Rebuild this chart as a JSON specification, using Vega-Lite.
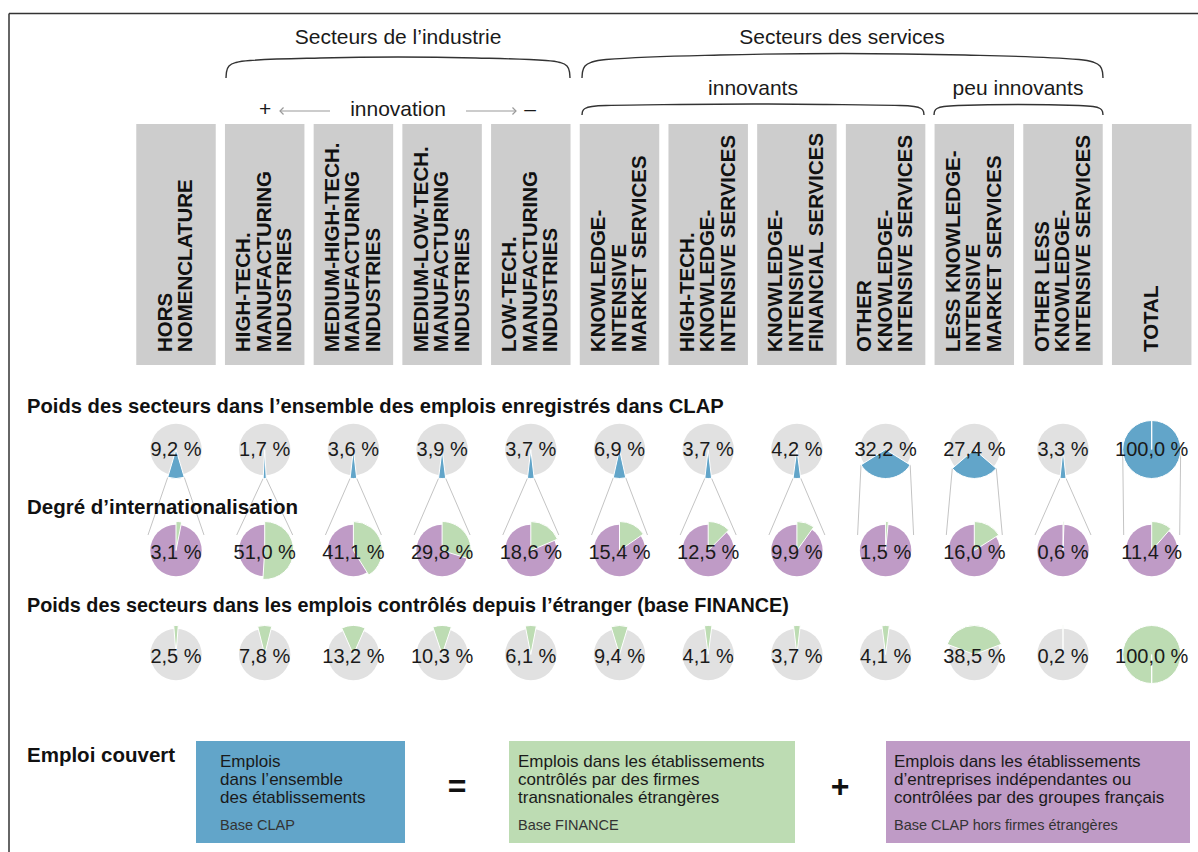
{
  "$schema": "https://vega.github.io/schema/vega-lite/v6.json",
  "width": 1198,
  "height": 852,
  "padding": 0,
  "autosize": {"type": "none"},
  "background": "white",
  "config": {"view": {"stroke": null}, "font": "Liberation Sans", "axis": {"disable": true}},
  "datasets": {
    "secteurs": [
      {"rang": 0, "secteur": "HORS\nNOMENCLATURE", "clap": 9.2, "inter": 3.1, "finance": 2.5},
      {"rang": 1, "secteur": "HIGH-TECH.\nMANUFACTURING\nINDUSTRIES", "clap": 1.7, "inter": 51.0, "finance": 7.8},
      {"rang": 2, "secteur": "MEDIUM-HIGH-TECH.\nMANUFACTURING\nINDUSTRIES", "clap": 3.6, "inter": 41.1, "finance": 13.2},
      {"rang": 3, "secteur": "MEDIUM-LOW-TECH.\nMANUFACTURING\nINDUSTRIES", "clap": 3.9, "inter": 29.8, "finance": 10.3},
      {"rang": 4, "secteur": "LOW-TECH.\nMANUFACTURING\nINDUSTRIES", "clap": 3.7, "inter": 18.6, "finance": 6.1},
      {"rang": 5, "secteur": "KNOWLEDGE-\nINTENSIVE\nMARKET SERVICES", "clap": 6.9, "inter": 15.4, "finance": 9.4},
      {"rang": 6, "secteur": "HIGH-TECH.\nKNOWLEDGE-\nINTENSIVE SERVICES", "clap": 3.7, "inter": 12.5, "finance": 4.1},
      {"rang": 7, "secteur": "KNOWLEDGE-\nINTENSIVE\nFINANCIAL SERVICES", "clap": 4.2, "inter": 9.9, "finance": 3.7},
      {"rang": 8, "secteur": "OTHER\nKNOWLEDGE-\nINTENSIVE SERVICES", "clap": 32.2, "inter": 1.5, "finance": 4.1},
      {"rang": 9, "secteur": "LESS KNOWLEDGE-\nINTENSIVE\nMARKET SERVICES", "clap": 27.4, "inter": 16.0, "finance": 38.5},
      {"rang": 10, "secteur": "OTHER LESS\nKNOWLEDGE-\nINTENSIVE SERVICES", "clap": 3.3, "inter": 0.6, "finance": 0.2},
      {"rang": 11, "secteur": "TOTAL", "clap": 100.0, "inter": 11.4, "finance": 100.0}
    ],
    "accolades": [
      {"accolade": "industrie", "u": 226, "v": 78},
      {"accolade": "industrie", "u": 226.5, "v": 72},
      {"accolade": "industrie", "u": 229, "v": 66},
      {"accolade": "industrie", "u": 236, "v": 62.5},
      {"accolade": "industrie", "u": 250, "v": 60.5},
      {"accolade": "industrie", "u": 320, "v": 58},
      {"accolade": "industrie", "u": 398, "v": 57},
      {"accolade": "industrie", "u": 476, "v": 58},
      {"accolade": "industrie", "u": 546, "v": 60.5},
      {"accolade": "industrie", "u": 560, "v": 62.5},
      {"accolade": "industrie", "u": 567, "v": 66},
      {"accolade": "industrie", "u": 569.5, "v": 72},
      {"accolade": "industrie", "u": 570, "v": 78},
      {"accolade": "services", "u": 582, "v": 78},
      {"accolade": "services", "u": 582.5, "v": 72},
      {"accolade": "services", "u": 585, "v": 66},
      {"accolade": "services", "u": 592, "v": 62},
      {"accolade": "services", "u": 606, "v": 59.5},
      {"accolade": "services", "u": 720, "v": 55},
      {"accolade": "services", "u": 842.5, "v": 53.5},
      {"accolade": "services", "u": 965, "v": 55},
      {"accolade": "services", "u": 1079, "v": 59.5},
      {"accolade": "services", "u": 1093, "v": 62},
      {"accolade": "services", "u": 1100, "v": 66},
      {"accolade": "services", "u": 1102.5, "v": 72},
      {"accolade": "services", "u": 1103, "v": 78},
      {"accolade": "innovants", "u": 582, "v": 115},
      {"accolade": "innovants", "u": 582.5, "v": 111.5},
      {"accolade": "innovants", "u": 585, "v": 108.5},
      {"accolade": "innovants", "u": 592, "v": 106.5},
      {"accolade": "innovants", "u": 606, "v": 105.5},
      {"accolade": "innovants", "u": 680, "v": 104.5},
      {"accolade": "innovants", "u": 753, "v": 104},
      {"accolade": "innovants", "u": 826, "v": 104.5},
      {"accolade": "innovants", "u": 900, "v": 105.5},
      {"accolade": "innovants", "u": 914, "v": 106.5},
      {"accolade": "innovants", "u": 921, "v": 108.5},
      {"accolade": "innovants", "u": 923.5, "v": 111.5},
      {"accolade": "innovants", "u": 924, "v": 115},
      {"accolade": "peu", "u": 934, "v": 115},
      {"accolade": "peu", "u": 934.5, "v": 111.5},
      {"accolade": "peu", "u": 937, "v": 108.5},
      {"accolade": "peu", "u": 944, "v": 106.5},
      {"accolade": "peu", "u": 958, "v": 105.5},
      {"accolade": "peu", "u": 1018.5, "v": 104.5},
      {"accolade": "peu", "u": 1079, "v": 105.5},
      {"accolade": "peu", "u": 1093, "v": 106.5},
      {"accolade": "peu", "u": 1100, "v": 108.5},
      {"accolade": "peu", "u": 1102.5, "v": 111.5},
      {"accolade": "peu", "u": 1103, "v": 115}
    ]
  },
  "data": {"name": "secteurs"},
  "layer": [
    {
      "data": {"values": [{"k": 1}]},
      "mark": {"type": "rule", "color": "#333333", "strokeWidth": 1.5},
      "encoding": {
        "x": {"datum": -1.88275, "type": "quantitative", "scale": {"type": "linear", "domain": [-1.98422, 11.52198], "nice": false, "zero": false}},
        "x2": {"datum": 11.52198},
        "y": {"datum": 13.5, "type": "quantitative", "scale": {"type": "linear", "domain": [0, 852], "reverse": true, "nice": false, "zero": false}}
      }
    },
    {
      "data": {"values": [{"k": 1}]},
      "mark": {"type": "rule", "color": "#333333", "strokeWidth": 1.5},
      "encoding": {
        "x": {"datum": -1.88275, "type": "quantitative", "scale": {"type": "linear", "domain": [-1.98422, 11.52198], "nice": false, "zero": false}},
        "y": {"datum": 13.5, "type": "quantitative", "scale": {"type": "linear", "domain": [0, 852], "reverse": true, "nice": false, "zero": false}},
        "y2": {"datum": 852}
      }
    },
    {
      "data": {"name": "accolades"},
      "transform": [{"calculate": "(datum.u - 176) / 88.7", "as": "uc"}],
      "mark": {"type": "line", "interpolate": "monotone", "color": "#333333", "strokeWidth": 1.4},
      "encoding": {
        "x": {"field": "uc", "type": "quantitative", "scale": {"type": "linear", "domain": [-1.98422, 11.52198], "nice": false, "zero": false}},
        "y": {"field": "v", "type": "quantitative", "scale": {"type": "linear", "domain": [0, 852], "reverse": true, "nice": false, "zero": false}},
        "detail": {"field": "accolade"}
      }
    },
    {
      "transform": [{"calculate": "datum.rang - 0.448", "as": "g"}, {"calculate": "datum.rang + 0.448", "as": "d"}],
      "mark": {"type": "rect", "color": "#cdcdcd"},
      "encoding": {
        "x": {"field": "g", "type": "quantitative", "scale": {"type": "linear", "domain": [-1.98422, 11.52198], "nice": false, "zero": false}},
        "x2": {"field": "d"},
        "y": {"datum": 124, "type": "quantitative", "scale": {"type": "linear", "domain": [0, 852], "reverse": true, "nice": false, "zero": false}},
        "y2": {"datum": 365}
      }
    },
    {
      "transform": [{"calculate": "datum.rang - (length(split(datum.secteur, '\\n')) - 1) * 10.25 / 88.7", "as": "xs"}],
      "mark": {"type": "text", "angle": 270, "align": "left", "baseline": "middle", "fontSize": 20.5, "fontWeight": "bold", "lineHeight": 20.5, "lineBreak": "\n", "color": "#111111"},
      "encoding": {
        "x": {"field": "xs", "type": "quantitative", "scale": {"type": "linear", "domain": [-1.98422, 11.52198], "nice": false, "zero": false}},
        "y": {"datum": 352, "type": "quantitative", "scale": {"type": "linear", "domain": [0, 852], "reverse": true, "nice": false, "zero": false}},
        "text": {"field": "secteur"}
      }
    },
    {
      "transform": [
        {"calculate": "min(datum.clap * PI / 100, PI / 2)", "as": "h"},
        {"calculate": "datum.rang - 29 * sin(datum.h) / 88.7", "as": "xa"},
        {"calculate": "449.5 + 29 * cos(datum.h)", "as": "ya"},
        {"calculate": "datum.rang - 28 / 88.7", "as": "xb"}
      ],
      "mark": {"type": "rule", "color": "#c4c4c4", "strokeWidth": 1},
      "encoding": {
        "x": {"field": "xa", "type": "quantitative", "scale": {"type": "linear", "domain": [-1.98422, 11.52198], "nice": false, "zero": false}},
        "x2": {"field": "xb"},
        "y": {"field": "ya", "type": "quantitative", "scale": {"type": "linear", "domain": [0, 852], "reverse": true, "nice": false, "zero": false}},
        "y2": {"datum": 535}
      }
    },
    {
      "transform": [
        {"calculate": "min(datum.clap * PI / 100, PI / 2)", "as": "h"},
        {"calculate": "datum.rang + 29 * sin(datum.h) / 88.7", "as": "xa"},
        {"calculate": "449.5 + 29 * cos(datum.h)", "as": "ya"},
        {"calculate": "datum.rang + 28 / 88.7", "as": "xb"}
      ],
      "mark": {"type": "rule", "color": "#c4c4c4", "strokeWidth": 1},
      "encoding": {
        "x": {"field": "xa", "type": "quantitative", "scale": {"type": "linear", "domain": [-1.98422, 11.52198], "nice": false, "zero": false}},
        "x2": {"field": "xb"},
        "y": {"field": "ya", "type": "quantitative", "scale": {"type": "linear", "domain": [0, 852], "reverse": true, "nice": false, "zero": false}},
        "y2": {"datum": 535}
      }
    },
    {
      "mark": {"type": "circle", "size": 2642, "opacity": 1, "color": "#e1e1e1"},
      "encoding": {
        "x": {"field": "rang", "type": "quantitative", "scale": {"type": "linear", "domain": [-1.98422, 11.52198], "nice": false, "zero": false}},
        "y": {"datum": 449.5, "type": "quantitative", "scale": {"type": "linear", "domain": [0, 852], "reverse": true, "nice": false, "zero": false}}
      }
    },
    {
      "transform": [{"calculate": "50 - datum.clap / 2", "as": "t0"}, {"calculate": "50 + datum.clap / 2", "as": "t1"}],
      "mark": {"type": "arc", "radius": 29, "color": "#62a5c9", "stroke": "white", "strokeWidth": 1},
      "encoding": {
        "x": {"field": "rang", "type": "quantitative", "stack": null, "scale": {"type": "linear", "domain": [-1.98422, 11.52198], "nice": false, "zero": false}},
        "y": {"datum": 449.5, "type": "quantitative", "stack": null, "scale": {"type": "linear", "domain": [0, 852], "reverse": true, "nice": false, "zero": false}},
        "theta": {"field": "t0", "type": "quantitative", "stack": null, "scale": {"type": "linear", "domain": [0, 100], "range": [0, 6.2831853], "nice": false, "zero": false}},
        "theta2": {"field": "t1"}
      }
    },
    {
      "mark": {"type": "circle", "size": 2642, "opacity": 1, "color": "#bf9bc6"},
      "encoding": {
        "x": {"field": "rang", "type": "quantitative", "scale": {"type": "linear", "domain": [-1.98422, 11.52198], "nice": false, "zero": false}},
        "y": {"datum": 550.5, "type": "quantitative", "scale": {"type": "linear", "domain": [0, 852], "reverse": true, "nice": false, "zero": false}}
      }
    },
    {
      "transform": [{"calculate": "0", "as": "t0"}],
      "mark": {"type": "arc", "radius": 29, "color": "#bddcb3", "stroke": "white", "strokeWidth": 1},
      "encoding": {
        "x": {"field": "rang", "type": "quantitative", "stack": null, "scale": {"type": "linear", "domain": [-1.98422, 11.52198], "nice": false, "zero": false}},
        "y": {"datum": 550.5, "type": "quantitative", "stack": null, "scale": {"type": "linear", "domain": [0, 852], "reverse": true, "nice": false, "zero": false}},
        "theta": {"field": "t0", "type": "quantitative", "stack": null, "scale": {"type": "linear", "domain": [0, 100], "range": [0, 6.2831853], "nice": false, "zero": false}},
        "theta2": {"field": "inter"}
      }
    },
    {
      "mark": {"type": "circle", "size": 2642, "opacity": 1, "color": "#e1e1e1"},
      "encoding": {
        "x": {"field": "rang", "type": "quantitative", "scale": {"type": "linear", "domain": [-1.98422, 11.52198], "nice": false, "zero": false}},
        "y": {"datum": 654.5, "type": "quantitative", "scale": {"type": "linear", "domain": [0, 852], "reverse": true, "nice": false, "zero": false}}
      }
    },
    {
      "transform": [{"calculate": "0 - datum.finance / 2", "as": "t0"}, {"calculate": "datum.finance / 2", "as": "t1"}],
      "mark": {"type": "arc", "radius": 29, "color": "#bddcb3", "stroke": "white", "strokeWidth": 1},
      "encoding": {
        "x": {"field": "rang", "type": "quantitative", "stack": null, "scale": {"type": "linear", "domain": [-1.98422, 11.52198], "nice": false, "zero": false}},
        "y": {"datum": 654.5, "type": "quantitative", "stack": null, "scale": {"type": "linear", "domain": [0, 852], "reverse": true, "nice": false, "zero": false}},
        "theta": {"field": "t0", "type": "quantitative", "stack": null, "scale": {"type": "linear", "domain": [0, 100], "range": [0, 6.2831853], "nice": false, "zero": false}},
        "theta2": {"field": "t1"}
      }
    },
    {
      "transform": [{"calculate": "replace(format(datum.clap, '.1f'), '.', ',') + ' %'", "as": "lab"}],
      "mark": {"type": "text", "fontSize": 20, "color": "#1a1a1a", "align": "center", "baseline": "middle"},
      "encoding": {
        "x": {"field": "rang", "type": "quantitative", "scale": {"type": "linear", "domain": [-1.98422, 11.52198], "nice": false, "zero": false}},
        "y": {"datum": 450, "type": "quantitative", "scale": {"type": "linear", "domain": [0, 852], "reverse": true, "nice": false, "zero": false}},
        "text": {"field": "lab"}
      }
    },
    {
      "transform": [{"calculate": "replace(format(datum.inter, '.1f'), '.', ',') + ' %'", "as": "lab"}],
      "mark": {"type": "text", "fontSize": 20, "color": "#1a1a1a", "align": "center", "baseline": "middle"},
      "encoding": {
        "x": {"field": "rang", "type": "quantitative", "scale": {"type": "linear", "domain": [-1.98422, 11.52198], "nice": false, "zero": false}},
        "y": {"datum": 553, "type": "quantitative", "scale": {"type": "linear", "domain": [0, 852], "reverse": true, "nice": false, "zero": false}},
        "text": {"field": "lab"}
      }
    },
    {
      "transform": [{"calculate": "replace(format(datum.finance, '.1f'), '.', ',') + ' %'", "as": "lab"}],
      "mark": {"type": "text", "fontSize": 20, "color": "#1a1a1a", "align": "center", "baseline": "middle"},
      "encoding": {
        "x": {"field": "rang", "type": "quantitative", "scale": {"type": "linear", "domain": [-1.98422, 11.52198], "nice": false, "zero": false}},
        "y": {"datum": 657, "type": "quantitative", "scale": {"type": "linear", "domain": [0, 852], "reverse": true, "nice": false, "zero": false}},
        "text": {"field": "lab"}
      }
    },
    {
      "data": {"values": [{"k": 1}]},
      "mark": {"type": "text", "text": "Secteurs de l’industrie", "fontSize": 21, "color": "#1a1a1a", "align": "center", "baseline": "middle"},
      "encoding": {
        "x": {"datum": 2.50282, "type": "quantitative", "scale": {"type": "linear", "domain": [-1.98422, 11.52198], "nice": false, "zero": false}},
        "y": {"datum": 38, "type": "quantitative", "scale": {"type": "linear", "domain": [0, 852], "reverse": true, "nice": false, "zero": false}}
      }
    },
    {
      "data": {"values": [{"k": 1}]},
      "mark": {"type": "text", "text": "Secteurs des services", "fontSize": 21, "color": "#1a1a1a", "align": "center", "baseline": "middle"},
      "encoding": {
        "x": {"datum": 7.50846, "type": "quantitative", "scale": {"type": "linear", "domain": [-1.98422, 11.52198], "nice": false, "zero": false}},
        "y": {"datum": 38, "type": "quantitative", "scale": {"type": "linear", "domain": [0, 852], "reverse": true, "nice": false, "zero": false}}
      }
    },
    {
      "data": {"values": [{"k": 1}]},
      "mark": {"type": "text", "text": "innovants", "fontSize": 21, "color": "#1a1a1a", "align": "center", "baseline": "middle"},
      "encoding": {
        "x": {"datum": 6.50507, "type": "quantitative", "scale": {"type": "linear", "domain": [-1.98422, 11.52198], "nice": false, "zero": false}},
        "y": {"datum": 89, "type": "quantitative", "scale": {"type": "linear", "domain": [0, 852], "reverse": true, "nice": false, "zero": false}}
      }
    },
    {
      "data": {"values": [{"k": 1}]},
      "mark": {"type": "text", "text": "peu innovants", "fontSize": 21, "color": "#1a1a1a", "align": "center", "baseline": "middle"},
      "encoding": {
        "x": {"datum": 9.49267, "type": "quantitative", "scale": {"type": "linear", "domain": [-1.98422, 11.52198], "nice": false, "zero": false}},
        "y": {"datum": 89, "type": "quantitative", "scale": {"type": "linear", "domain": [0, 852], "reverse": true, "nice": false, "zero": false}}
      }
    },
    {
      "data": {"values": [{"k": 1}]},
      "mark": {"type": "text", "text": "innovation", "fontSize": 21, "color": "#1a1a1a", "align": "center", "baseline": "middle"},
      "encoding": {
        "x": {"datum": 2.50282, "type": "quantitative", "scale": {"type": "linear", "domain": [-1.98422, 11.52198], "nice": false, "zero": false}},
        "y": {"datum": 110, "type": "quantitative", "scale": {"type": "linear", "domain": [0, 852], "reverse": true, "nice": false, "zero": false}}
      }
    },
    {
      "data": {"values": [{"k": 1}]},
      "mark": {"type": "text", "text": "+", "fontSize": 21, "color": "#1a1a1a", "align": "center", "baseline": "middle"},
      "encoding": {
        "x": {"datum": 1.00338, "type": "quantitative", "scale": {"type": "linear", "domain": [-1.98422, 11.52198], "nice": false, "zero": false}},
        "y": {"datum": 110, "type": "quantitative", "scale": {"type": "linear", "domain": [0, 852], "reverse": true, "nice": false, "zero": false}}
      }
    },
    {
      "data": {"values": [{"k": 1}]},
      "mark": {"type": "text", "text": "–", "fontSize": 21, "color": "#1a1a1a", "align": "center", "baseline": "middle"},
      "encoding": {
        "x": {"datum": 3.99098, "type": "quantitative", "scale": {"type": "linear", "domain": [-1.98422, 11.52198], "nice": false, "zero": false}},
        "y": {"datum": 110, "type": "quantitative", "scale": {"type": "linear", "domain": [0, 852], "reverse": true, "nice": false, "zero": false}}
      }
    },
    {
      "data": {"values": [{"k": 1}]},
      "mark": {"type": "rule", "color": "#9a9a9a", "strokeWidth": 1.2},
      "encoding": {
        "x": {"datum": 1.17249, "type": "quantitative", "scale": {"type": "linear", "domain": [-1.98422, 11.52198], "nice": false, "zero": false}},
        "x2": {"datum": 1.73619},
        "y": {"datum": 111, "type": "quantitative", "scale": {"type": "linear", "domain": [0, 852], "reverse": true, "nice": false, "zero": false}}
      }
    },
    {
      "data": {"values": [{"k": 1}]},
      "mark": {"type": "rule", "color": "#9a9a9a", "strokeWidth": 1.2},
      "encoding": {
        "x": {"datum": 3.26945, "type": "quantitative", "scale": {"type": "linear", "domain": [-1.98422, 11.52198], "nice": false, "zero": false}},
        "x2": {"datum": 3.83315},
        "y": {"datum": 111, "type": "quantitative", "scale": {"type": "linear", "domain": [0, 852], "reverse": true, "nice": false, "zero": false}}
      }
    },
    {
      "data": {"values": [{"k": 1}]},
      "mark": {"type": "point", "shape": "M1,-1L0,0L1,1", "size": 50, "filled": false, "color": "#9a9a9a", "strokeWidth": 1.2, "opacity": 1},
      "encoding": {
        "x": {"datum": 1.17249, "type": "quantitative", "scale": {"type": "linear", "domain": [-1.98422, 11.52198], "nice": false, "zero": false}},
        "y": {"datum": 111, "type": "quantitative", "scale": {"type": "linear", "domain": [0, 852], "reverse": true, "nice": false, "zero": false}}
      }
    },
    {
      "data": {"values": [{"k": 1}]},
      "mark": {"type": "point", "shape": "M-1,-1L0,0L-1,1", "size": 50, "filled": false, "color": "#9a9a9a", "strokeWidth": 1.2, "opacity": 1},
      "encoding": {
        "x": {"datum": 3.83315, "type": "quantitative", "scale": {"type": "linear", "domain": [-1.98422, 11.52198], "nice": false, "zero": false}},
        "y": {"datum": 111, "type": "quantitative", "scale": {"type": "linear", "domain": [0, 852], "reverse": true, "nice": false, "zero": false}}
      }
    },
    {
      "data": {"values": [{"k": 1}]},
      "mark": {"type": "text", "text": "Poids des secteurs dans l’ensemble des emplois enregistrés dans CLAP", "fontSize": 20.2, "fontWeight": "bold", "color": "#111111", "align": "left", "baseline": "middle"},
      "encoding": {
        "x": {"datum": -1.67982, "type": "quantitative", "scale": {"type": "linear", "domain": [-1.98422, 11.52198], "nice": false, "zero": false}},
        "y": {"datum": 407, "type": "quantitative", "scale": {"type": "linear", "domain": [0, 852], "reverse": true, "nice": false, "zero": false}}
      }
    },
    {
      "data": {"values": [{"k": 1}]},
      "mark": {"type": "text", "text": "Degré d’internationalisation", "fontSize": 20.5, "fontWeight": "bold", "color": "#111111", "align": "left", "baseline": "middle"},
      "encoding": {
        "x": {"datum": -1.67982, "type": "quantitative", "scale": {"type": "linear", "domain": [-1.98422, 11.52198], "nice": false, "zero": false}},
        "y": {"datum": 508, "type": "quantitative", "scale": {"type": "linear", "domain": [0, 852], "reverse": true, "nice": false, "zero": false}}
      }
    },
    {
      "data": {"values": [{"k": 1}]},
      "mark": {"type": "text", "text": "Poids des secteurs dans les emplois contrôlés depuis l’étranger (base FINANCE)", "fontSize": 19.8, "fontWeight": "bold", "color": "#111111", "align": "left", "baseline": "middle"},
      "encoding": {
        "x": {"datum": -1.67982, "type": "quantitative", "scale": {"type": "linear", "domain": [-1.98422, 11.52198], "nice": false, "zero": false}},
        "y": {"datum": 606, "type": "quantitative", "scale": {"type": "linear", "domain": [0, 852], "reverse": true, "nice": false, "zero": false}}
      }
    },
    {
      "data": {"values": [{"k": 1}]},
      "mark": {"type": "text", "text": "Emploi couvert", "fontSize": 20.5, "fontWeight": "bold", "color": "#111111", "align": "left", "baseline": "middle"},
      "encoding": {
        "x": {"datum": -1.67982, "type": "quantitative", "scale": {"type": "linear", "domain": [-1.98422, 11.52198], "nice": false, "zero": false}},
        "y": {"datum": 756, "type": "quantitative", "scale": {"type": "linear", "domain": [0, 852], "reverse": true, "nice": false, "zero": false}}
      }
    },
    {
      "data": {"values": [{"k": 1}]},
      "mark": {"type": "rect", "color": "#62a5c9"},
      "encoding": {
        "x": {"datum": 0.22548, "type": "quantitative", "scale": {"type": "linear", "domain": [-1.98422, 11.52198], "nice": false, "zero": false}},
        "x2": {"datum": 2.58174},
        "y": {"datum": 741, "type": "quantitative", "scale": {"type": "linear", "domain": [0, 852], "reverse": true, "nice": false, "zero": false}},
        "y2": {"datum": 843}
      }
    },
    {
      "data": {"values": [{"k": 1}]},
      "mark": {"type": "rect", "color": "#bddcb3"},
      "encoding": {
        "x": {"datum": 3.75423, "type": "quantitative", "scale": {"type": "linear", "domain": [-1.98422, 11.52198], "nice": false, "zero": false}},
        "x2": {"datum": 6.97858},
        "y": {"datum": 741, "type": "quantitative", "scale": {"type": "linear", "domain": [0, 852], "reverse": true, "nice": false, "zero": false}},
        "y2": {"datum": 843}
      }
    },
    {
      "data": {"values": [{"k": 1}]},
      "mark": {"type": "rect", "color": "#bf9bc6"},
      "encoding": {
        "x": {"datum": 8.00451, "type": "quantitative", "scale": {"type": "linear", "domain": [-1.98422, 11.52198], "nice": false, "zero": false}},
        "x2": {"datum": 11.43179},
        "y": {"datum": 741, "type": "quantitative", "scale": {"type": "linear", "domain": [0, 852], "reverse": true, "nice": false, "zero": false}},
        "y2": {"datum": 843}
      }
    },
    {
      "data": {"values": [{"k": 1}]},
      "mark": {"type": "text", "text": "Emplois\ndans l’ensemble\ndes établissements", "lineBreak": "\n", "lineHeight": 18, "fontSize": 17, "color": "#1a1a1a", "align": "left", "baseline": "top"},
      "encoding": {
        "x": {"datum": 0.49605, "type": "quantitative", "scale": {"type": "linear", "domain": [-1.98422, 11.52198], "nice": false, "zero": false}},
        "y": {"datum": 754, "type": "quantitative", "scale": {"type": "linear", "domain": [0, 852], "reverse": true, "nice": false, "zero": false}}
      }
    },
    {
      "data": {"values": [{"k": 1}]},
      "mark": {"type": "text", "text": "Emplois dans les établissements\ncontrôlés par des firmes\ntransnationales étrangères", "lineBreak": "\n", "lineHeight": 18, "fontSize": 17, "color": "#1a1a1a", "align": "left", "baseline": "top"},
      "encoding": {
        "x": {"datum": 3.85569, "type": "quantitative", "scale": {"type": "linear", "domain": [-1.98422, 11.52198], "nice": false, "zero": false}},
        "y": {"datum": 754, "type": "quantitative", "scale": {"type": "linear", "domain": [0, 852], "reverse": true, "nice": false, "zero": false}}
      }
    },
    {
      "data": {"values": [{"k": 1}]},
      "mark": {"type": "text", "text": "Emplois dans les établissements\nd’entreprises indépendantes ou\ncontrôlées par des groupes français", "lineBreak": "\n", "lineHeight": 18, "fontSize": 17, "color": "#1a1a1a", "align": "left", "baseline": "top"},
      "encoding": {
        "x": {"datum": 8.0947, "type": "quantitative", "scale": {"type": "linear", "domain": [-1.98422, 11.52198], "nice": false, "zero": false}},
        "y": {"datum": 754, "type": "quantitative", "scale": {"type": "linear", "domain": [0, 852], "reverse": true, "nice": false, "zero": false}}
      }
    },
    {
      "data": {"values": [{"k": 1}]},
      "mark": {"type": "text", "text": "Base CLAP", "fontSize": 14.5, "color": "#333333", "align": "left", "baseline": "middle"},
      "encoding": {
        "x": {"datum": 0.49605, "type": "quantitative", "scale": {"type": "linear", "domain": [-1.98422, 11.52198], "nice": false, "zero": false}},
        "y": {"datum": 826, "type": "quantitative", "scale": {"type": "linear", "domain": [0, 852], "reverse": true, "nice": false, "zero": false}}
      }
    },
    {
      "data": {"values": [{"k": 1}]},
      "mark": {"type": "text", "text": "Base FINANCE", "fontSize": 14.5, "color": "#333333", "align": "left", "baseline": "middle"},
      "encoding": {
        "x": {"datum": 3.85569, "type": "quantitative", "scale": {"type": "linear", "domain": [-1.98422, 11.52198], "nice": false, "zero": false}},
        "y": {"datum": 826, "type": "quantitative", "scale": {"type": "linear", "domain": [0, 852], "reverse": true, "nice": false, "zero": false}}
      }
    },
    {
      "data": {"values": [{"k": 1}]},
      "mark": {"type": "text", "text": "Base CLAP hors firmes étrangères", "fontSize": 14.5, "color": "#333333", "align": "left", "baseline": "middle"},
      "encoding": {
        "x": {"datum": 8.0947, "type": "quantitative", "scale": {"type": "linear", "domain": [-1.98422, 11.52198], "nice": false, "zero": false}},
        "y": {"datum": 826, "type": "quantitative", "scale": {"type": "linear", "domain": [0, 852], "reverse": true, "nice": false, "zero": false}}
      }
    },
    {
      "data": {"values": [{"k": 1}]},
      "mark": {"type": "text", "text": "=", "fontSize": 32, "fontWeight": "bold", "color": "#111111", "align": "center", "baseline": "middle"},
      "encoding": {
        "x": {"datum": 3.16798, "type": "quantitative", "scale": {"type": "linear", "domain": [-1.98422, 11.52198], "nice": false, "zero": false}},
        "y": {"datum": 787, "type": "quantitative", "scale": {"type": "linear", "domain": [0, 852], "reverse": true, "nice": false, "zero": false}}
      }
    },
    {
      "data": {"values": [{"k": 1}]},
      "mark": {"type": "text", "text": "+", "fontSize": 32, "fontWeight": "bold", "color": "#111111", "align": "center", "baseline": "middle"},
      "encoding": {
        "x": {"datum": 7.48591, "type": "quantitative", "scale": {"type": "linear", "domain": [-1.98422, 11.52198], "nice": false, "zero": false}},
        "y": {"datum": 787, "type": "quantitative", "scale": {"type": "linear", "domain": [0, 852], "reverse": true, "nice": false, "zero": false}}
      }
    }
  ]
}
